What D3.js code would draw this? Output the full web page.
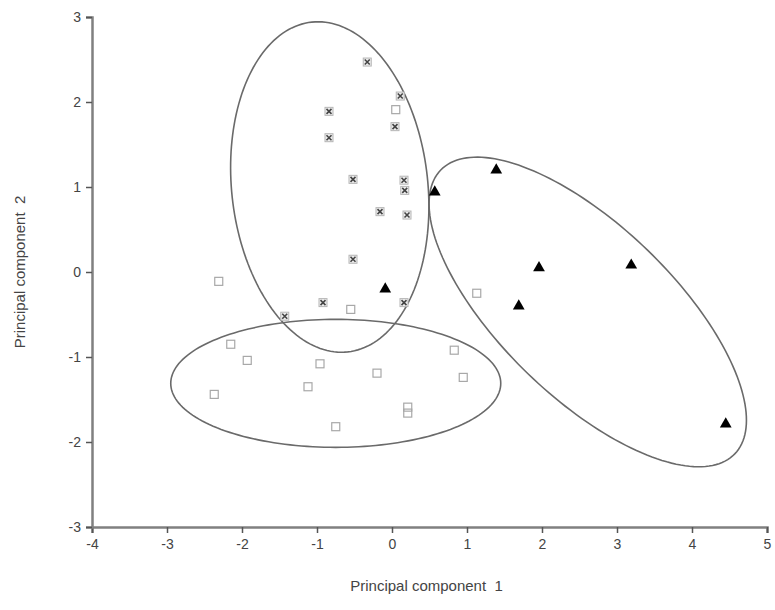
<!DOCTYPE html>
<html>
<head>
<meta charset="utf-8">
<script src="https://cdn.jsdelivr.net/npm/d3@7"></script>
<style>
  body { margin: 0; background: #fff; }
  .axisText { font-family: "Liberation Sans", Arial, sans-serif; fill: #444; white-space: pre; }
</style>
</head>
<body>
<div id="scatter"></div>
<script>
// svg container
var svgWidth = 775;
var svgHeight = 610;

// margins
var margin = { top: 17, right: 8, bottom: 83, left: 92 };

var width = svgWidth - margin.left - margin.right;
var height = svgHeight - margin.top - margin.bottom;

// data: [pc1, pc2]
var crossPoints = [
  [-0.33, 2.47], [0.11, 2.07], [-0.84, 1.89], [-0.84, 1.58], [0.04, 1.71],
  [-0.52, 1.09], [0.16, 1.08], [0.17, 0.96], [-0.16, 0.71], [0.20, 0.67],
  [-0.52, 0.15], [-0.92, -0.36], [0.16, -0.36], [-1.43, -0.52]
];
var trianglePoints = [
  [0.57, 0.94], [1.39, 1.20], [-0.09, -0.20], [1.96, 0.05],
  [1.69, -0.40], [3.19, 0.08], [4.45, -1.79]
];
var squarePoints = [
  [0.05, 1.91], [-2.31, -0.11], [-0.55, -0.44], [1.13, -0.25], [-2.15, -0.85],
  [-1.93, -1.04], [-0.96, -1.08], [-0.20, -1.19], [-1.12, -1.35], [-2.37, -1.44],
  [0.83, -0.92], [0.95, -1.24], [0.21, -1.59], [0.21, -1.66], [-0.75, -1.82]
];

// group ellipses: centre, major semi-axis vector, minor semi-axis vector (data units)
var ellipseCenters = [[-0.83, 1.00], [-0.75, -1.31], [2.61, -0.47]];
var ellipseMajor = [[-0.24, 1.94], [2.20, 0], [-1.96, 1.67]];
var ellipseMinor = [[1.30, 0.125], [0, 0.753], [0.797, 0.727]];

var xTicks = [-4, -3, -2, -1, 0, 1, 2, 3, 4, 5];
var yTicks = [-3, -2, -1, 0, 1, 2, 3];

var svg = d3.select("#scatter")
  .append("svg")
  .attr("width", svgWidth)
  .attr("height", svgHeight);

var chartGroup = svg.append("g")
  .attr("transform", `translate(${margin.left}, ${margin.top})`);

var xLinearScale = d3.scaleLinear().domain([-4, 5]).range([0, width]);
var yLinearScale = d3.scaleLinear().domain([-3, 3]).range([height, 0]);

// axes - plain hyphen minus like the original
var fmt = d => String(d);
var bottomAxis = d3.axisBottom(xLinearScale).tickValues(xTicks).tickFormat(fmt).tickSizeOuter(0).tickSize(6).tickPadding(6);
var leftAxis = d3.axisLeft(yLinearScale).tickValues(yTicks).tickFormat(fmt).tickSizeOuter(0).tickSize(6).tickPadding(5);

var xAxis = chartGroup.append("g")
  .attr("transform", `translate(0, ${height})`)
  .call(bottomAxis);

var yAxis = chartGroup.append("g")
  .call(leftAxis);

[xAxis, yAxis].forEach(function(ax) {
  ax.select(".domain").attr("stroke", "#808080").attr("stroke-width", 2.5);
  ax.selectAll(".tick line").attr("stroke", "#555").attr("stroke-width", 1.5);
  ax.selectAll(".tick text")
    .attr("class", "axisText")
    .style("font-size", "14px");
});

// ellipses
var ellipseLine = d3.line()
  .x(d => xLinearScale(d[0]))
  .y(d => yLinearScale(d[1]))
  .curve(d3.curveLinearClosed);

ellipseCenters.forEach(function(c, i) {
  var pts = d3.range(0, 360, 2).map(function(deg) {
    var t = deg * Math.PI / 180;
    return [
      c[0] + Math.cos(t) * ellipseMajor[i][0] + Math.sin(t) * ellipseMinor[i][0],
      c[1] + Math.cos(t) * ellipseMajor[i][1] + Math.sin(t) * ellipseMinor[i][1]
    ];
  });
  chartGroup.append("path")
    .attr("d", ellipseLine(pts))
    .attr("fill", "none")
    .attr("stroke", "#6a6a6a")
    .attr("stroke-width", 1.6);
});

// open squares
chartGroup.selectAll(".sq")
  .data(squarePoints)
  .enter()
  .append("rect")
  .attr("x", d => xLinearScale(d[0]) - 4)
  .attr("y", d => yLinearScale(d[1]) - 4)
  .attr("width", 8)
  .attr("height", 8)
  .attr("fill", "none")
  .attr("stroke", "#a8a8a8")
  .attr("stroke-width", 1.2);

// crossed squares
var crossGroup = chartGroup.selectAll(".cr")
  .data(crossPoints)
  .enter()
  .append("g")
  .attr("transform", d => `translate(${xLinearScale(d[0])}, ${yLinearScale(d[1])})`);

crossGroup.append("rect")
  .attr("x", -4).attr("y", -4)
  .attr("width", 8).attr("height", 8)
  .attr("fill", "#eee")
  .attr("stroke", "#b5b5b5")
  .attr("stroke-width", 1);

crossGroup.append("path")
  .attr("d", "M-2.5,-2.5L2.5,2.5M2.5,-2.5L-2.5,2.5")
  .attr("stroke", "#444")
  .attr("stroke-width", 1.6);

// filled triangles
chartGroup.selectAll(".tri")
  .data(trianglePoints)
  .enter()
  .append("path")
  .attr("transform", d => `translate(${xLinearScale(d[0])}, ${yLinearScale(d[1])})`)
  .attr("d", d3.symbol().type(d3.symbolTriangle).size(60))
  .attr("fill", "#000");

// axis labels
chartGroup.append("text")
  .attr("x", width / 2 - 3)
  .attr("y", height + 64)
  .attr("text-anchor", "middle")
  .attr("class", "axisText")
  .style("font-size", "15px")
  .text("Principal component  1");

chartGroup.append("text")
  .attr("transform", "rotate(-90)")
  .attr("x", 0 - (yLinearScale(0)))
  .attr("y", 0 - margin.left + 25)
  .attr("text-anchor", "middle")
  .attr("class", "axisText")
  .style("font-size", "15px")
  .text("Principal component  2");
</script>
</body>
</html>
